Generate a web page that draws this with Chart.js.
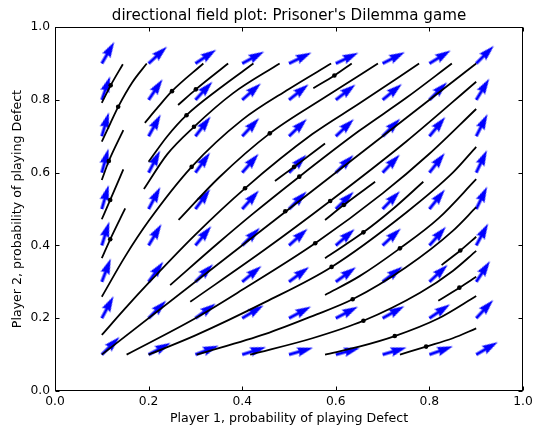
<!DOCTYPE html>
<html>
<head>
<meta charset="utf-8">
<script src="https://cdn.jsdelivr.net/npm/chart.js@4.4.0/dist/chart.umd.min.js"></script>
<style>
    body { margin: 0; background: #fff; }
</style>
</head>
<body>
<canvas id="fieldChart" width="533" height="426"></canvas>
<script>
// quiver grid
const gridX = [0.1, 0.2, 0.3, 0.4, 0.5, 0.6, 0.7, 0.8, 0.9];
const gridY = [0.1, 0.2, 0.3, 0.4, 0.5, 0.6, 0.7, 0.8, 0.9];
// arrow direction in degrees, one row per gridY value (bottom row first)
const arrowAngles = [
    [45, 28, 21, 17.5, 16, 15.5, 16.5, 19.5, 30],
    [62, 45, 36, 31, 28, 27.5, 29, 34, 47],
    [69, 54, 45, 39.5, 36.5, 36, 37.5, 43, 56.5],
    [72.5, 59, 50.5, 45, 42, 41, 43, 48.5, 61.5],
    [74, 62, 53.5, 48, 45, 44, 46, 51.5, 64],
    [74.5, 62.5, 54, 49, 46, 45, 46.5, 52, 64.5],
    [73.5, 61, 52.5, 47, 44, 43.5, 45, 50.5, 63],
    [70.5, 56, 47, 41.5, 38.5, 38, 39.5, 45, 58.5],
    [60, 42.5, 33.5, 28.5, 26, 25.5, 27, 31.5, 45]
];

// trajectories, [x, y] pairs
const diagCurve = [[0.1, 0.1], [0.9, 0.9]];
const curveP1 = [[0.289, 0.245], [0.45, 0.39], [0.588, 0.522], [0.75, 0.685], [0.9, 0.85]];
const curveP2 = [[0.153, 0.1], [0.3, 0.2], [0.4, 0.278], [0.556, 0.406], [0.7, 0.543], [0.8, 0.652], [0.9, 0.775]];
const curveP3 = [[0.2, 0.1], [0.3, 0.153], [0.45, 0.245], [0.591, 0.341], [0.75, 0.49], [0.85, 0.6], [0.9, 0.671]];
const curveP4 = [[0.577, 0.264], [0.65, 0.315], [0.737, 0.392], [0.82, 0.475], [0.9, 0.582]];
const curveP5 = [[0.303, 0.1], [0.45, 0.157], [0.55, 0.206], [0.636, 0.252], [0.75, 0.34], [0.85, 0.44], [0.9, 0.505]];
const curveP6 = [[0.417, 0.1], [0.55, 0.145], [0.659, 0.193], [0.78, 0.27], [0.85, 0.33], [0.9, 0.385]];
const curveP7 = [[0.577, 0.1], [0.65, 0.122], [0.726, 0.151], [0.82, 0.2], [0.9, 0.261]];
const curveP8 = [[0.737, 0.1], [0.793, 0.122], [0.85, 0.145], [0.9, 0.172]];
const shortS1 = [[0.577, 0.47], [0.617, 0.511], [0.684, 0.575]];
const shortS2 = [[0.577, 0.365], [0.659, 0.436], [0.72, 0.498], [0.787, 0.575]];
const shortS3 = [[0.819, 0.248], [0.864, 0.284], [0.9, 0.314]];
const shortS5 = [[0.826, 0.346], [0.866, 0.386], [0.9, 0.424]];
const curveT1 = [[0.246, 0.291], [0.35, 0.408], [0.42, 0.484], [0.522, 0.589], [0.65, 0.715], [0.75, 0.805], [0.848, 0.9]];
const shortK1 = [[0.47, 0.577], [0.511, 0.616], [0.577, 0.68]];
const curveT2 = [[0.1, 0.154], [0.15, 0.227], [0.2, 0.297], [0.3, 0.43], [0.406, 0.557], [0.55, 0.706], [0.65, 0.79], [0.778, 0.9]];
const curveT3 = [[0.264, 0.47], [0.35, 0.586], [0.459, 0.708], [0.58, 0.81], [0.69, 0.9]];
const shortT4 = [[0.552, 0.832], [0.597, 0.867], [0.634, 0.9]];
const curveT5 = [[0.1, 0.259], [0.15, 0.37], [0.2, 0.467], [0.292, 0.616], [0.4, 0.745], [0.5, 0.83], [0.59, 0.9]];
const curveH = [[0.19, 0.555], [0.24, 0.651], [0.297, 0.726], [0.38, 0.818], [0.48, 0.9]];
const curveG = [[0.2, 0.63], [0.24, 0.7], [0.281, 0.758], [0.35, 0.83], [0.424, 0.9]];
const curveF = [[0.263, 0.786], [0.301, 0.829], [0.37, 0.9]];
const curveE = [[0.192, 0.737], [0.22, 0.78], [0.25, 0.824], [0.317, 0.9]];
const curveB = [[0.1, 0.685], [0.118, 0.735], [0.135, 0.781], [0.165, 0.848], [0.196, 0.9]];
const curveA = [[0.1, 0.792], [0.119, 0.84], [0.145, 0.898]];
const shortC = [[0.1, 0.58], [0.115, 0.632], [0.146, 0.717]];
const shortD = [[0.1, 0.472], [0.118, 0.525], [0.146, 0.609]];
const shortD2 = [[0.1, 0.365], [0.118, 0.417], [0.15, 0.502]];

// starting points of the trajectories
const dotX = [0.119, 0.135, 0.115, 0.118, 0.118, 0.25, 0.301, 0.281, 0.297, 0.292, 0.459, 0.406, 0.511, 0.522,
    0.597, 0.492, 0.588, 0.617, 0.659, 0.556, 0.591, 0.737, 0.636, 0.659, 0.726, 0.793, 0.866, 0.864];
const dotY = [0.84, 0.781, 0.632, 0.525, 0.417, 0.824, 0.829, 0.758, 0.726, 0.616, 0.708, 0.557, 0.616, 0.589,
    0.867, 0.494, 0.522, 0.511, 0.436, 0.406, 0.341, 0.392, 0.252, 0.193, 0.151, 0.122, 0.386, 0.284];

const allCurves = [diagCurve, curveP1, curveP2, curveP3, curveP4, curveP5, curveP6, curveP7, curveP8,
    shortS1, shortS2, shortS3, shortS5, curveT1, shortK1, curveT2, curveT3, shortT4, curveT5,
    curveH, curveG, curveF, curveE, curveB, curveA, shortC, shortD, shortD2];

const FONT = 'DejaVu Sans';

// blue quiver arrow, tail in the middle of the image, pointing right
function makeArrowImage() {
    const len = 25, w = 3.2;
    const size = 2 * (len + 2);
    const c = document.createElement('canvas');
    c.width = size;
    c.height = size;
    const g = c.getContext('2d');
    const cx = size / 2, cy = size / 2;
    g.fillStyle = '#0000ff';
    g.beginPath();
    g.moveTo(cx, cy - w / 2);
    g.lineTo(cx + len - 4.5 * w, cy - w / 2);
    g.lineTo(cx + len - 5 * w, cy - 1.5 * w);
    g.lineTo(cx + len, cy);
    g.lineTo(cx + len - 5 * w, cy + 1.5 * w);
    g.lineTo(cx + len - 4.5 * w, cy + w / 2);
    g.lineTo(cx, cy + w / 2);
    g.closePath();
    g.fill();
    return c;
}

// matplotlib style frame with inward ticks on all four sides
const frameTicks = {
    id: 'frameTicks',
    afterDraw(chart) {
        const { ctx, chartArea: a, scales: { x, y } } = chart;
        const L = Math.round(a.left) + 0.5, R = Math.round(a.right) - 0.5;
        const T = Math.round(a.top) + 0.5, B = Math.round(a.bottom) - 0.5;
        ctx.save();
        ctx.strokeStyle = '#000';
        ctx.lineWidth = 1;
        ctx.beginPath();
        x.ticks.forEach(t => {
            const px = Math.round(x.getPixelForValue(t.value)) + 0.5;
            ctx.moveTo(px, B); ctx.lineTo(px, B - 4);
            ctx.moveTo(px, T); ctx.lineTo(px, T + 4);
        });
        y.ticks.forEach(t => {
            const py = Math.round(y.getPixelForValue(t.value)) + 0.5;
            ctx.moveTo(L, py); ctx.lineTo(L + 4, py);
            ctx.moveTo(R, py); ctx.lineTo(R - 4, py);
        });
        ctx.stroke();
        ctx.strokeRect(L, T, R - L, B - T);
        ctx.restore();
    }
};

function initChart() {
    const arrowImg = makeArrowImage();
    const arrowPoints = [];
    const arrowRot = [];
    gridY.forEach((yv, j) => {
        gridX.forEach((xv, i) => {
            arrowPoints.push({ x: xv, y: yv });
            arrowRot.push(-arrowAngles[j][i]);
        });
    });

    const datasets = [];

    // dots on top
    datasets.push({
        data: dotX.map((v, i) => ({ x: v, y: dotY[i] })),
        pointRadius: 2.3,
        pointBackgroundColor: '#000',
        pointBorderWidth: 0,
        order: 0
    });

    allCurves.forEach(c => {
        datasets.push({
            data: c.map(p => ({ x: p[0], y: p[1] })),
            showLine: true,
            borderColor: '#000',
            borderWidth: 1.8,
            pointRadius: 0,
            fill: false,
            cubicInterpolationMode: 'monotone',
            order: 1
        });
    });

    datasets.push({
        data: arrowPoints,
        pointStyle: arrowImg,
        pointRadius: 3,
        rotation: arrowRot,
        order: 2
    });

    const tickFont = { family: FONT, size: 12.3 };
    const labelFont = { family: FONT, size: 12.6 };

    new Chart(document.getElementById('fieldChart'), {
        type: 'scatter',
        data: { datasets },
        options: {
            responsive: false,
            animation: false,
            devicePixelRatio: 1,
            events: [],
            layout: { padding: { left: 0, right: 10, top: 0, bottom: 0 } },
            plugins: {
                legend: { display: false },
                tooltip: { enabled: false },
                title: {
                    display: true,
                    text: "directional field plot: Prisoner's Dilemma game",
                    color: '#000',
                    fullSize: false,
                    font: { family: FONT, size: 15.1, weight: 'normal', lineHeight: 1.2 },
                    padding: { top: 7, bottom: 2 }
                }
            },
            scales: {
                x: {
                    type: 'linear', min: 0, max: 1,
                    ticks: { stepSize: 0.2, color: '#000', font: tickFont, padding: 3, maxRotation: 0,
                        callback: v => Number(v).toFixed(1) },
                    grid: { display: false, drawTicks: false },
                    border: { display: false },
                    title: { display: true, text: 'Player 1, probability of playing Defect', color: '#000',
                        font: labelFont, padding: { top: 0, bottom: 0 } },
                    afterFit(scale) {
                        scale.height = 35;
                        scale.paddingLeft = 0;
                        scale.paddingRight = 0;
                    }
                },
                y: {
                    type: 'linear', min: 0, max: 1,
                    ticks: { stepSize: 0.2, color: '#000', font: tickFont, padding: 5,
                        callback: v => Number(v).toFixed(1) },
                    grid: { display: false, drawTicks: false },
                    border: { display: false },
                    title: { display: true, text: 'Player 2, probability of playing Defect', color: '#000',
                        font: labelFont, padding: { top: 10.5, bottom: 0 } },
                    afterFit(scale) {
                        scale.width = 55;
                        scale.paddingTop = 0;
                        scale.paddingBottom = 0;
                    }
                }
            }
        },
        plugins: [frameTicks]
    });
}

document.addEventListener('DOMContentLoaded', initChart);
</script>
</body>
</html>
